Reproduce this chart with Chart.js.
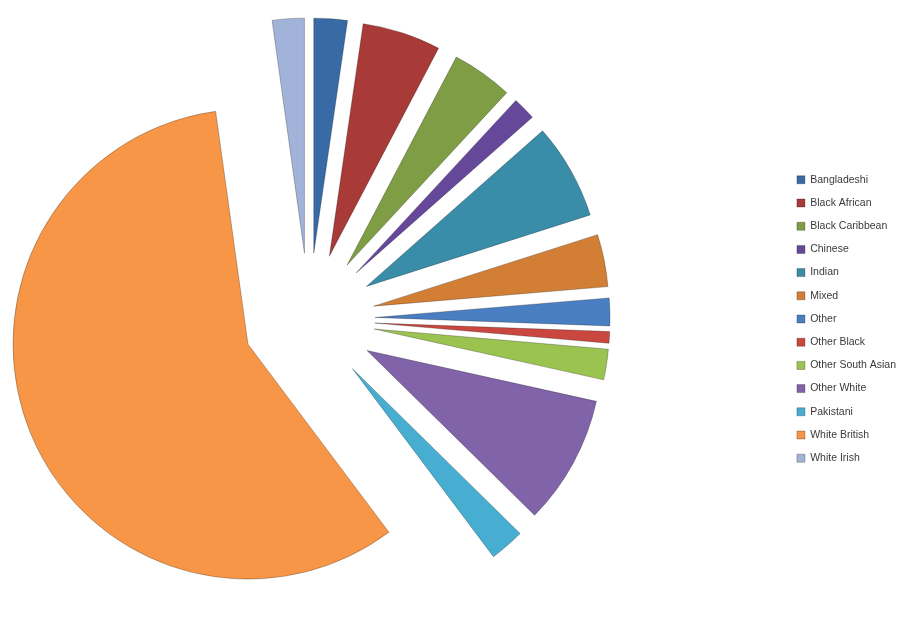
<!DOCTYPE html>
<html>
<head>
<meta charset="utf-8">
<script src="https://cdn.jsdelivr.net/npm/chart.js@4"></script>
<style>
    html, body { margin: 0; padding: 0; background: #fff; }
    #wrap { width: 904px; height: 628px; }
</style>
</head>
<body>
<div id="wrap"><canvas id="pieChart"></canvas></div>
<script>
// values (percent of total)
const groups = ['Bangladeshi', 'Black African', 'Black Caribbean', 'Chinese', 'Indian', 'Mixed',
    'Other', 'Other Black', 'Other South Asian', 'Other White', 'Pakistani', 'White British', 'White Irish'];
const shares = [2.3, 5.4, 4.2, 1.6, 6.6, 3.6, 1.9, 0.8, 2.1, 8.9, 2.4, 58.1, 2.2];
const colours = ['#386AA6', '#A83A37', '#7F9D45', '#66489A', '#3A8DA8', '#D27E34',
    '#4A7EC2', '#C9473F', '#9BC34F', '#8063A8', '#47AED1', '#F79646', '#A1B3D8'];

const EXPLODE = 66;   // every slice pulled out by the same distance
const CENTER_X = 309; // pie sits left of the plot area middle

// draw each arc shifted along its bisector (Excel style explosion)
const explodePlugin = {
    id: 'explode',
    beforeDatasetDraw(chart, args) {
        const ctx = chart.ctx;
        args.meta.data.forEach((arc) => {
            const mid = (arc.startAngle + arc.endAngle) / 2;
            ctx.save();
            ctx.translate(CENTER_X - arc.x + Math.cos(mid) * EXPLODE, Math.sin(mid) * EXPLODE);
            arc.draw(ctx);
            ctx.restore();
        });
        return false;
    }
};

document.addEventListener('DOMContentLoaded', () => {
    const ctx = document.getElementById('pieChart').getContext('2d');
    new Chart(ctx, {
        type: 'pie',
        data: {
            labels: groups,
            datasets: [{
                data: shares,
                backgroundColor: colours,
                borderColor: 'rgba(0,0,0,0.25)',
                borderWidth: 1
            }]
        },
        options: {
            responsive: true,
            maintainAspectRatio: false,
            animation: false,
            radius: 235,
            layout: { padding: { top: 10, right: -2 } },
            plugins: {
                tooltip: { enabled: false },
                legend: {
                    position: 'right',
                    labels: {
                        boxWidth: 8,
                        boxHeight: 8,
                        padding: 12.7,
                        color: '#3a3a3a',
                        font: { family: 'Liberation Sans', size: 10.5 }
                    }
                }
            }
        },
        plugins: [explodePlugin]
    });
});
</script>
</body>
</html>
